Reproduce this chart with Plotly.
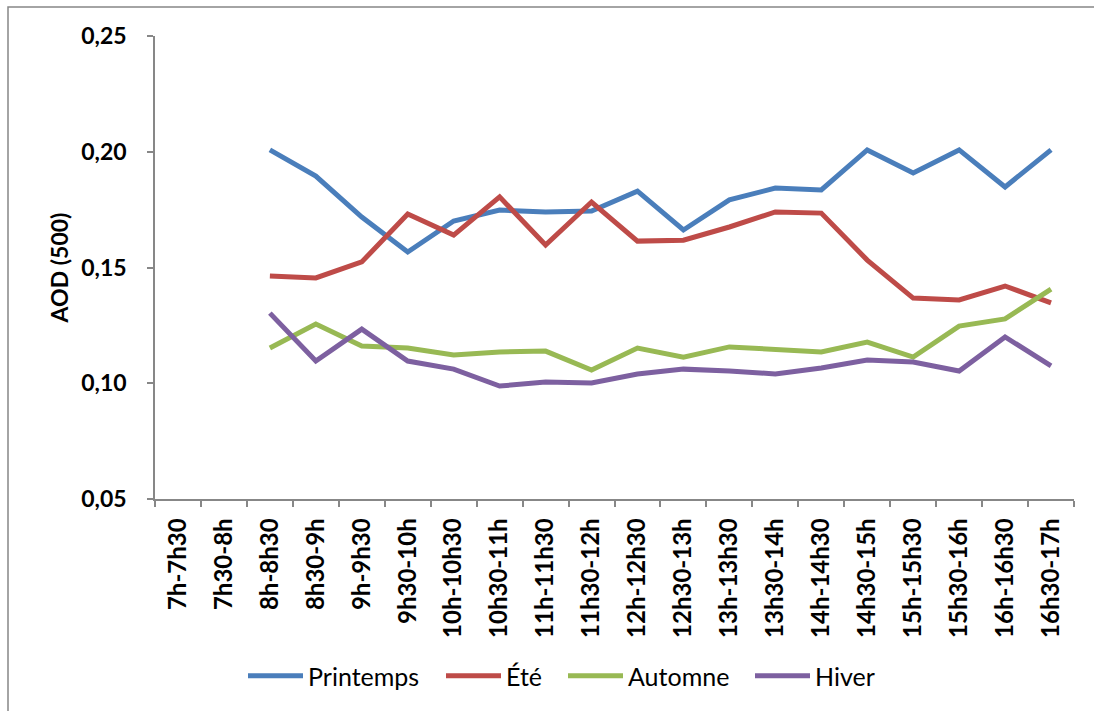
import plotly.graph_objects as go

categories = ["7h-7h30", "7h30-8h", "8h-8h30", "8h30-9h", "9h-9h30", "9h30-10h",
              "10h-10h30", "10h30-11h", "11h-11h30", "11h30-12h", "12h-12h30",
              "12h30-13h", "13h-13h30", "13h30-14h", "14h-14h30", "14h30-15h",
              "15h-15h30", "15h30-16h", "16h-16h30", "16h30-17h"]

printemps = [None, None, 0.2008, 0.1895, 0.1718, 0.1567, 0.1701, 0.1748, 0.1740, 0.1744,
             0.1830, 0.1662, 0.1792, 0.1843, 0.1835, 0.2008, 0.1908, 0.2008, 0.1848, 0.2008]
ete = [None, None, 0.1463, 0.1455, 0.1524, 0.1731, 0.1640, 0.1805, 0.1597, 0.1783,
       0.1614, 0.1618, 0.1675, 0.1740, 0.1735, 0.1532, 0.1368, 0.1360, 0.1420, 0.1347]
automne = [None, None, 0.1152, 0.1256, 0.1161, 0.1152, 0.1122, 0.1135, 0.1139, 0.1057,
           0.1152, 0.1113, 0.1157, 0.1148, 0.1135, 0.1178, 0.1113, 0.1247, 0.1278, 0.1407]
hiver = [None, None, 0.1303, 0.1096, 0.1234, 0.1096, 0.1061, 0.0988, 0.1005, 0.1001,
         0.1040, 0.1061, 0.1053, 0.1040, 0.1066, 0.1100, 0.1092, 0.1053, 0.1200, 0.1075]

series_names = ["Printemps", "Été", "Automne", "Hiver"]
series_values = [printemps, ete, automne, hiver]
colors = ["#4A7EBB", "#BE4B48", "#98B954", "#7D60A0"]

FONT = "Lato"
PLOT_L, PLOT_W, PLOT_B, PLOT_H = 155, 919, 499, 463
legend_px = [248, 446, 568, 755]  # left pixel of each legend entry line

fig = go.Figure()
legend_ids = ["legend", "legend2", "legend3", "legend4"]
for name, vals, col, lid in zip(series_names, series_values, colors, legend_ids):
    fig.add_trace(go.Scatter(x=categories, y=vals, mode="lines", name=name,
                             line=dict(color=col, width=5), connectgaps=False,
                             legend=lid))

legend_common = dict(orientation="h", xanchor="left", yanchor="middle",
                     y=(PLOT_B - 676) / PLOT_H, bgcolor="rgba(0,0,0,0)",
                     font=dict(family=FONT, size=25, color="black"), itemwidth=55)
legend_layout = {}
for lid, px in zip(legend_ids, legend_px):
    legend_layout[lid] = dict(legend_common, x=(px - 5 - PLOT_L) / PLOT_W)

fig.update_layout(
    width=1094, height=711,
    margin=dict(l=155, r=20, t=36, b=212),
    paper_bgcolor="white", plot_bgcolor="white",
    separators=", ",
    font=dict(family=FONT, color="black"),
    showlegend=True,
    **legend_layout,
)

fig.update_xaxes(
    type="category", categoryorder="array", categoryarray=categories,
    range=[-0.5, len(categories) - 0.5],
    showline=True, linecolor="#878787", linewidth=1.5,
    ticks="outside", ticklen=6, tickcolor="#878787", tickwidth=1.5,
    tickson="boundaries", tickangle=-90, ticklabelstandoff=8,
    tickfont=dict(family=FONT, size=24, color="black", weight="bold"),
    showgrid=False, zeroline=False,
)
fig.update_yaxes(
    range=[0.05, 0.25], dtick=0.05, tick0=0.05, tickformat=".2f",
    showline=True, linecolor="#878787", linewidth=1.5,
    ticks="outside", ticklen=6, tickcolor="#878787", tickwidth=1.5,
    ticklabelstandoff=16,
    tickfont=dict(family=FONT, size=23, color="black", weight="bold"),
    showgrid=False, zeroline=False,
    title=dict(text="AOD (500)", font=dict(family=FONT, size=23, color="black", weight="bold"),
               standoff=6),
)

# outer chart-area border
fig.add_shape(type="rect", xref="paper", yref="paper",
              x0=(8 - PLOT_L) / PLOT_W, x1=(1100 - PLOT_L) / PLOT_W,
              y0=(PLOT_B - 720) / PLOT_H, y1=(PLOT_B - 7) / PLOT_H,
              line=dict(color="#878787", width=1.5), fillcolor="rgba(0,0,0,0)", layer="below")

fig.write_html("out.html", config={"displayModeBar": False},
               post_script="document.body.style.margin='0px';")
